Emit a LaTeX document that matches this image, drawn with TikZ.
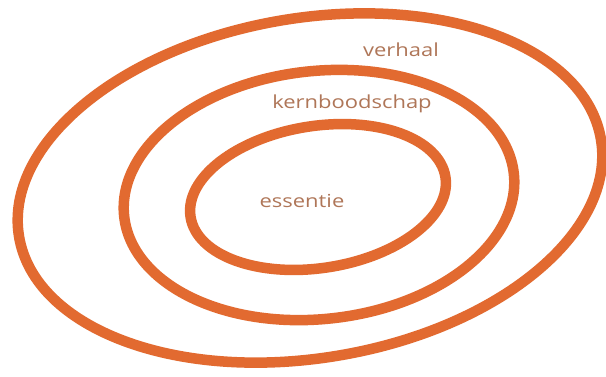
\documentclass[tikz,border=0pt]{standalone}
\usepackage{fontspec}
\usepackage{graphicx}
\setmainfont{Open Sans}
\definecolor{ring}{RGB}{226,106,48}
\definecolor{lbl}{RGB}{175,118,88}
\tikzset{
  ringline/.style={draw=ring, line width=10.5pt},
  lab/.style={text=lbl, font=\fontsize{18}{18}\selectfont, inner sep=0pt}
}
\newcommand{\wide}[1]{\scalebox{1.22}[1]{#1}}
\begin{document}
\begin{tikzpicture}[x=1pt,y=-1pt]
\useasboundingbox[fill=white] (0,0) rectangle (606,376);
% outer ring
\draw[ringline] (310,188) ellipse[x radius=295, y radius=170, rotate=9.5];
% middle ring
\draw[ringline] (319,195) ellipse[x radius=196, y radius=124, rotate=6.3];
% inner ring
\draw[ringline] (318,197) ellipse[x radius=129, y radius=71, rotate=8.9];
\node[lab] (verhaal) at (401,50) {\wide{verhaal}};
\node[lab] (kern) at (352,104) {\wide{kernboodschap}};
\node[lab] (essentie) at (302,201) {\wide{essentie}};
\end{tikzpicture}
\end{document}
